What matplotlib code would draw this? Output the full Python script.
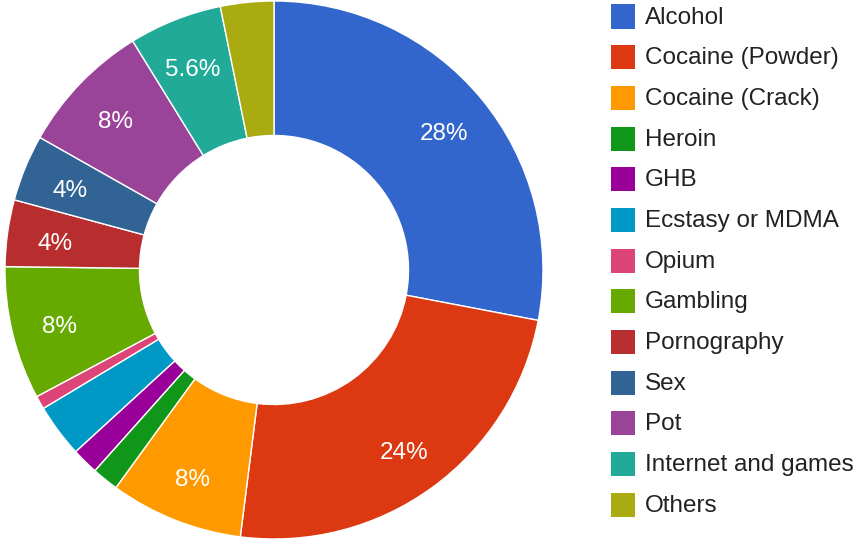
import matplotlib.pyplot as plt
from matplotlib.patches import Rectangle

plt.rcParams['font.family'] = ['Liberation Sans', 'DejaVu Sans']

# Slice data
labels = ["Alcohol", "Cocaine (Powder)", "Cocaine (Crack)", "Heroin", "GHB",
          "Ecstasy or MDMA", "Opium", "Gambling", "Pornography", "Sex", "Pot",
          "Internet and games", "Others"]
values = [28, 24, 8, 1.6, 1.6, 3.2, 0.8, 8, 4, 4, 8, 5.6, 3.2]
colors = ["#3366cc", "#dc3912", "#ff9900", "#109618", "#990099", "#0099c6",
          "#dd4477", "#66aa00", "#b82e2e", "#316395", "#994499", "#22aa99",
          "#aaaa11"]

W, H = 858, 541
fig = plt.figure(figsize=(W / 100, H / 100), dpi=100)

# donut axes, 538 px square
ax = fig.add_axes([5 / W, 2 / H, 538 / W, 538 / H])


def pct_label(p):
    if p < 3.5:
        return ""
    s = f"{p:.1f}"
    if s.endswith(".0"):
        s = s[:-2]
    return s + "%"


wedges, texts, autotexts = ax.pie(
    values, colors=colors, startangle=90, counterclock=False,
    autopct=pct_label, pctdistance=0.82, radius=1,
    wedgeprops=dict(width=0.5, edgecolor="white", linewidth=1),
    textprops=dict(color="white", fontsize=17.5))
# nudge the percent labels down a little
for t in autotexts:
    x, y = t.get_position()
    t.set_position((x, y - 0.018))
ax.set_xlim(-1, 1)
ax.set_ylim(-1, 1)
ax.set_aspect("equal")
ax.axis("off")

# Legend drawn by hand, Google-chart style
x_box = 611
y0 = 16.5
step = 40.67
box = 24
for i, (lab, col) in enumerate(zip(labels, colors)):
    yc = y0 + i * step
    fig.patches.append(Rectangle((x_box / W, 1 - (yc + box / 2) / H), box / W, box / H,
                                 transform=fig.transFigure, facecolor=col,
                                 edgecolor="none"))
    fig.text(645 / W, 1 - (yc + 1) / H, lab, fontsize=17.5, color="#222222",
             ha="left", va="center")

fig.savefig("out.png", dpi=100, facecolor="white")
